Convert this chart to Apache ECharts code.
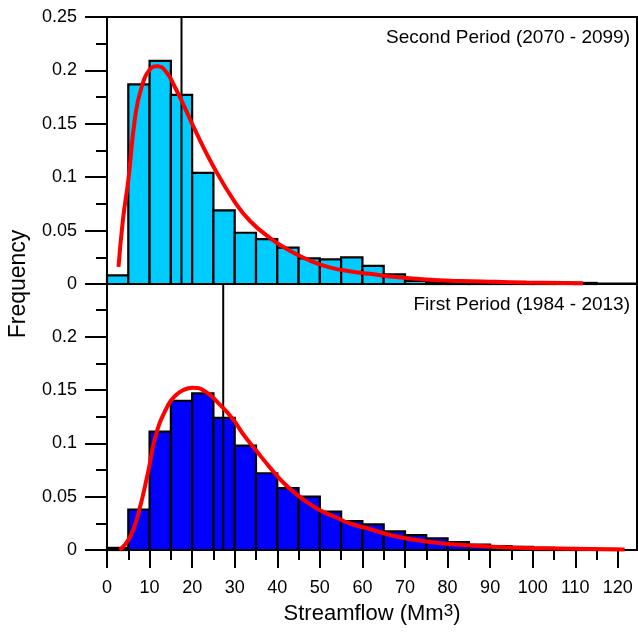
<!DOCTYPE html>
<html>
<head>
<meta charset="utf-8">
<script src="https://cdn.jsdelivr.net/npm/echarts@6/dist/echarts.min.js"></script>
<style>
html,body{margin:0;padding:0;background:#fff;}
#chart{width:638px;height:634px;}
</style>
</head>
<body>
<div id="chart"></div>
<script>
// ---- Data ----
const binStarts = [0,5,10,15,20,25,30,35,40,45,50,55,60,65,70,75,80,85,90,95,100,105,110,115];
const binWidth = 5;
const secondFreq = [0.008,0.187,0.209,0.177,0.104,0.069,0.048,0.042,0.034,0.024,0.023,0.025,0.017,0.009,0.003,0.002,0.001,0.001,0.001,0.001,0.001,0.001,0.001];
const firstFreq  = [0.002,0.038,0.111,0.140,0.147,0.124,0.098,0.072,0.058,0.050,0.036,0.027,0.024,0.0175,0.014,0.011,0.0075,0.005,0.0037,0.003,0.002,0.0015,0.001,0.001];

const secondCurveX = [2.7,3.8,5.0,6.6,8.1,10.1,11.9,14.0,16.0,18.3,20.7,25.0,30.0,33.6,38.3,43.0,47.6,52.3,57.0,61.7,67.0,75.0,83.0,91.0,98.5,111.8];
const secondCurveY = [0.016,0.062,0.097,0.156,0.184,0.201,0.204,0.198,0.184,0.165,0.144,0.110,0.077,0.059,0.043,0.031,0.022,0.0156,0.012,0.0095,0.0068,0.0042,0.0028,0.002,0.0014,0.0008];

const firstCurveX = [3.0,5.4,7.35,9.7,11.3,13.6,16.0,18.3,20.0,23.0,26.1,29.6,32.0,35.1,38.3,41.4,44.5,47.65,50.8,53.9,57.0,61.7,67.2,75.0,82.9,90.7,98.5,106.3,121.6];
const firstCurveY = [0.0,0.012,0.034,0.074,0.105,0.130,0.1445,0.1507,0.1523,0.149,0.138,0.1227,0.1086,0.093,0.0773,0.0633,0.0524,0.043,0.0358,0.0305,0.0249,0.0197,0.0134,0.008,0.005,0.0031,0.0019,0.0014,0.0005];

const secondRefX = 17.5;
const firstRefX = 27.3;

const xMajorTicks = [0,10,20,30,40,50,60,70,80,90,100,110,120];
const xMinorTicks = [5,15,25,35,45,55,65,75,85,95,105,115];
const panelTitles = ['Second Period (2070 - 2099)', 'First Period (1984 - 2013)'];

// ---- Chart ----
const FONT = 'Liberation Sans, Arial, sans-serif';
const chart = echarts.init(document.getElementById('chart'), null, {renderer: 'canvas'});

function barData(freq){ return freq.map((v,i)=>[binStarts[i], binStarts[i]+binWidth, v]); }
function curveData(xs, ys){ return xs.map((x,i)=>[x, ys[i]]); }
function makeRender(color){
  return function(params, api){
    const p0 = api.coord([api.value(0), api.value(2)]);
    const p1 = api.coord([api.value(1), 0]);
    return {type:'rect', shape:{x:p0[0], y:p0[1], width:p1[0]-p0[0], height:p1[1]-p0[1]},
      style:{fill:color, stroke:'#000', lineWidth:2.2}};
  };
}

const XMAX = 124.5;
const gridL = 107, gridW = 530;

function yAxisFor(gi, showMax){
  return {
    type:'value', gridIndex:gi, min:0, max:0.25, interval:0.05,
    axisLine:{show:true, lineStyle:{color:'#000', width:2}},
    axisTick:{show:true, length:22, lineStyle:{color:'#000', width:2}},
    minorTick:{show:true, splitNumber:2, length:11, lineStyle:{color:'#000', width:2}},
    splitLine:{show:false},
    axisLabel:{show:true, margin:30, color:'#000', fontSize:18, fontFamily:FONT, showMaxLabel:showMax,
      formatter:function(v){ return String(parseFloat(v.toFixed(3))); }}
  };
}

const option = {
  animation:false,
  backgroundColor:'#fff',
  grid:[
    {left:gridL, top:17, width:gridW, height:267, show:true, borderColor:'#000', borderWidth:2, backgroundColor:'transparent'},
    {left:gridL, top:283.5, width:gridW, height:266.5, show:true, borderColor:'#000', borderWidth:2, backgroundColor:'transparent'}
  ],
  xAxis:[
    {type:'value', gridIndex:0, position:'bottom', min:0, max:XMAX,
      axisLine:{show:true, lineStyle:{color:'#000', width:2}}, axisTick:{show:false}, axisLabel:{show:false}, splitLine:{show:false}},
    {type:'value', gridIndex:1, position:'bottom', min:0, max:XMAX,
      axisLine:{show:true, lineStyle:{color:'#000', width:2}},
      axisTick:{show:true, length:18, customValues:xMajorTicks, lineStyle:{color:'#000', width:2}},
      axisLabel:{show:true, customValues:xMajorTicks, margin:29, color:'#000', fontSize:18, fontFamily:FONT},
      splitLine:{show:false},
      name:'{a|Streamflow (Mm}{s|3}{a|)}', nameLocation:'middle', nameGap:53,
      nameTextStyle:{rich:{a:{fontSize:22, fontFamily:FONT, color:'#000', verticalAlign:'bottom'}, s:{fontSize:17, fontFamily:FONT, color:'#000', verticalAlign:'top'}}}},
    {type:'value', gridIndex:1, position:'bottom', min:0, max:XMAX,
      axisLine:{show:false},
      axisTick:{show:true, length:10, customValues:xMinorTicks, lineStyle:{color:'#000', width:2}},
      axisLabel:{show:false}, splitLine:{show:false}}
  ],
  yAxis:[ yAxisFor(0, true), yAxisFor(1, false) ],
  graphic:[
    {type:'text', x:19, y:284, rotation:Math.PI/2,
      style:{text:'Frequency', font:'23px ' + FONT, fill:'#000', align:'center', verticalAlign:'middle'}},
    {type:'text', x:630, y:38,
      style:{text:panelTitles[0], font:'19px ' + FONT, fill:'#000', align:'right', verticalAlign:'middle'}},
    {type:'text', x:630, y:305,
      style:{text:panelTitles[1], font:'19px ' + FONT, fill:'#000', align:'right', verticalAlign:'middle'}}
  ],
  series:[
    {type:'custom', xAxisIndex:0, yAxisIndex:0, data:barData(secondFreq), encode:{x:[0,1], y:2}, renderItem:makeRender('#00CCFF'), z:2},
    {type:'custom', xAxisIndex:1, yAxisIndex:1, data:barData(firstFreq), encode:{x:[0,1], y:2}, renderItem:makeRender('#0000FF'), z:2},
    {type:'line', xAxisIndex:0, yAxisIndex:0, data:[[secondRefX,0],[secondRefX,0.25]], symbol:'none', lineStyle:{color:'#000', width:2}, z:3},
    {type:'line', xAxisIndex:1, yAxisIndex:1, data:[[firstRefX,0],[firstRefX,0.25]], symbol:'none', lineStyle:{color:'#000', width:2}, z:3},
    {type:'line', xAxisIndex:0, yAxisIndex:0, data:curveData(secondCurveX, secondCurveY), symbol:'none', smooth:0.5, lineStyle:{color:'#FF0000', width:4}, z:4},
    {type:'line', xAxisIndex:1, yAxisIndex:1, data:curveData(firstCurveX, firstCurveY), symbol:'none', smooth:0.5, lineStyle:{color:'#FF0000', width:4}, z:4}
  ]
};
chart.setOption(option);
</script>
</body>
</html>
